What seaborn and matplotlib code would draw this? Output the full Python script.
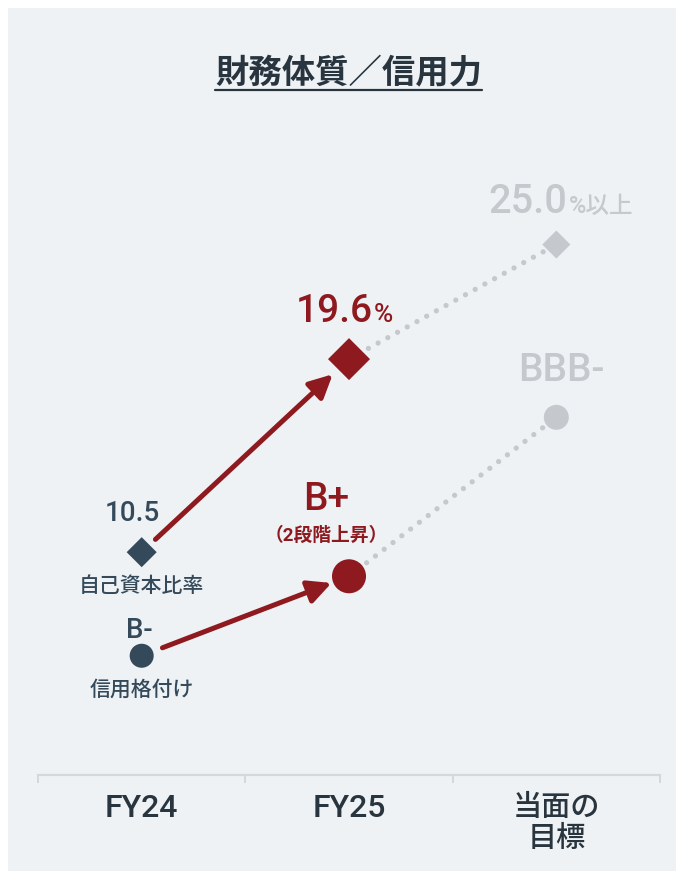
import numpy as np
import pandas as pd
import matplotlib.pyplot as plt
import seaborn as sns
from matplotlib.patches import Rectangle
from matplotlib.lines import Line2D

sns.set_style("white")
plt.rcParams['font.family'] = ['Roboto', 'Noto Sans CJK JP', 'DejaVu Sans']

# data
periods = ["FY24", "FY25", "当面の\n目標"]
equity_ratio = [10.5, 19.6, 25.0]
rating_scale = ["CCC-", "CCC", "CCC+", "B-", "B", "B+", "BB-", "BB", "BB+", "BBB-"]
ratings = ["B-", "B+", "BBB-"]

navy = "#34495a"
red = "#8e1a1f"
gray = "#c5c8cc"
bg = "#eef2f5"
dark = "#28343e"

pos = np.arange(len(periods))
df = pd.DataFrame({
    "pos": pos,
    "period": periods,
    "equity": equity_ratio,
    "rating": [rating_scale.index(r) for r in ratings],
})
colors = {periods[0]: navy, periods[1]: red, periods[2]: gray}
dia_sizes = {periods[0]: 234, periods[1]: 457, periods[2]: 204}
dot_sizes = {periods[0]: 299, periods[1]: 600, periods[2]: 324}

fig = plt.figure(figsize=(6.79, 8.74), dpi=100)
fig.patch.set_facecolor("white")
fig.patches.append(Rectangle((0.0118, 0.0034), 0.984, 0.987, transform=fig.transFigure,
                             facecolor=bg, edgecolor="none", zorder=-10))

ax = fig.add_axes([0.056, 0.1133, 0.916, 0.738])
ax.set_facecolor("none")
ymax = 30.4
ax.set_xlim(-0.5, 2.5)
ax.set_ylim(0, ymax)
ax2 = ax.twinx()
ax2.set_ylim(0, ymax / 1.873)
ax2.set_facecolor("none")

for a in (ax, ax2):
    for s in ["top", "right", "left"]:
        a.spines[s].set_visible(False)
    a.set_yticks([])
ax2.spines["bottom"].set_visible(False)
ax.spines["bottom"].set_color("#d5d8db")
ax.spines["bottom"].set_linewidth(1.6)

dotted = dict(linewidth=3.8, linestyle=(0, (0.001, 2.1)), dash_capstyle="round", color=gray)

# target dotted lines
sns.lineplot(data=df.iloc[1:], x="pos", y="equity", ax=ax, zorder=1, **dotted)
sns.lineplot(data=df.iloc[1:], x="pos", y="rating", ax=ax2, zorder=1, **dotted)

# markers
sns.scatterplot(data=df, x="pos", y="equity", hue="period", palette=colors, size="period",
                sizes=dia_sizes, marker="D", linewidth=0, legend=False, ax=ax, zorder=3)
sns.scatterplot(data=df, x="pos", y="rating", hue="period", palette=colors, size="period",
                sizes=dot_sizes, marker="o", linewidth=0, legend=False, ax=ax2, zorder=3)
ax.set_xlabel("")
ax.set_ylabel("")
ax2.set_ylabel("")
ax.set_xlim(-0.5, 2.5)
ax2.set_yticks([])
ax2.tick_params(bottom=False, labelbottom=False)

ax.set_xticks(pos)
ax.set_xticklabels(periods, fontsize=21, color=dark, fontweight="medium", linespacing=1.1)
for t in ax.get_xticklabels():
    if t.get_text().startswith("FY"):
        t.set_fontsize(23)
ax.set_xticks([-0.5, 0.5, 1.5, 2.5], minor=True)
ax.tick_params(axis="x", which="major", bottom=True, length=0, pad=14)
ax.tick_params(axis="x", which="minor", bottom=True, length=6, width=1.4,
               color="#d5d8db", direction="out")

# arrows
arrow = dict(arrowstyle="-|>,head_length=0.7,head_width=0.35", color=red, lw=3.6,
             mutation_scale=20, capstyle="round")
ax.annotate("", xy=(pos[1], equity_ratio[1]), xytext=(pos[0], equity_ratio[0]),
            arrowprops=dict(**arrow, shrinkA=13.5, shrinkB=16), zorder=2)
r = df["rating"].tolist()
ax2.annotate("", xy=(pos[1], r[1]), xytext=(pos[0], r[0]),
             arrowprops=dict(**arrow, shrinkA=16, shrinkB=13.5), zorder=2)

def label(a, x, y, text, dx, dy, size, color, ha="center", va="center", weight="medium"):
    a.annotate(text, xy=(x, y), xytext=(dx, dy), textcoords="offset points",
               ha=ha, va=va, fontsize=size, color=color, fontweight=weight)

# FY24
label(ax, pos[0], equity_ratio[0], f"{equity_ratio[0]}", -7, 28, 20, navy)
label(ax, pos[0], equity_ratio[0], "自己資本比率", 0, -24.5, 15, navy)
label(ax2, pos[0], r[0], ratings[0], -2, 18, 20, navy)
label(ax2, pos[0], r[0], "信用格付け", 0, -24.5, 15, navy)

# FY25
label(ax, pos[1], equity_ratio[1], f"{equity_ratio[1]}", 17, 27, 28, red, ha="right", va="baseline")
label(ax, pos[1], equity_ratio[1], "%", 18, 27, 19, red, ha="left", va="baseline")
label(ax2, pos[1], r[1], "B+", -16.5, 55, 28, red)
label(ax2, pos[1], r[1], "（2段階上昇）", -16.5, 29.5, 13.5, red, weight="bold")

# target
label(ax, pos[2], equity_ratio[2], f"{equity_ratio[2]}", 8, 23, 28.5, gray, ha="right", va="baseline")
label(ax, pos[2], equity_ratio[2], "%以上", 9, 23, 17, gray, ha="left", va="baseline")
label(ax2, pos[2], r[2], ratings[2], 3.6, 34, 28, gray)

# title
fig.text(349 / 679, 1 - 74 / 874, "財務体質／信用力", ha="center", va="center",
         fontsize=24, color=dark, fontweight="bold")
fig.lines.append(Line2D([215 / 679, 482 / 679], [1 - 90 / 874, 1 - 90 / 874],
                        transform=fig.transFigure, color=dark, linewidth=1.6))

fig.savefig("out.png", dpi=100)
